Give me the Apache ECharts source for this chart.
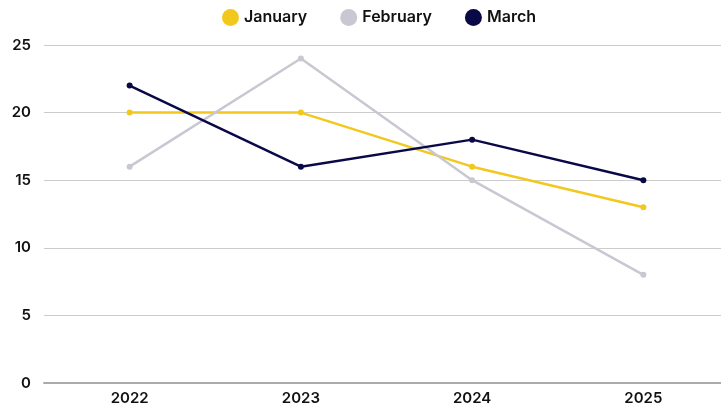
<!DOCTYPE html>
<html>
<head>
<meta charset="utf-8">
<script src="https://cdn.jsdelivr.net/npm/echarts@6/dist/echarts.min.js"></script>
<style>
html, body { margin: 0; padding: 0; background: #fff; }
#chart { width: 721px; height: 406px; }
</style>
</head>
<body>
<div id="chart"></div>
<script>
var years = ['2022', '2023', '2024', '2025'];
var january = [20, 20, 16, 13];
var february = [16, 24, 15, 8];
var march = [22, 16, 18, 15];

var colors = ['#F2C81F', '#C8C8D2', '#0A0948'];
var font = 'Inter';

var myChart = echarts.init(document.getElementById('chart'));

function line(name, data) {
    return {
        name: name,
        type: 'line',
        data: data,
        symbol: 'circle',
        symbolSize: 6,
        lineStyle: { width: 2.5 },
        emphasis: { disabled: true }
    };
}

option = {
    animation: false,
    color: colors,
    textStyle: { fontFamily: font },
    legend: {
        top: 4,
        left: 217,
        icon: 'circle',
        itemWidth: 17,
        itemHeight: 17,
        itemGap: 33,
        textStyle: { fontSize: 16, fontWeight: 600, color: '#111', fontFamily: font },
        data: ['January', 'February', 'March']
    },
    grid: { left: 44, width: 685, top: 45, bottom: 23, containLabel: false, outerBoundsMode: 'none' },
    xAxis: {
        type: 'category',
        data: years,
        axisLine: { lineStyle: { color: '#aaaaaa', width: 2 } },
        axisTick: { show: false },
        axisLabel: { fontSize: 15, fontWeight: 600, color: '#111', margin: 8, fontFamily: font }
    },
    yAxis: {
        type: 'value',
        min: 0,
        max: 25,
        interval: 5,
        axisLine: { show: false },
        axisTick: { show: false },
        splitLine: { lineStyle: { color: '#cccccc', width: 1 } },
        axisLabel: { fontSize: 15, fontWeight: 600, color: '#111', margin: 13, fontFamily: font }
    },
    series: [
        line('January', january),
        line('February', february),
        line('March', march)
    ]
};
myChart.setOption(option, true);
</script>
</body>
</html>
